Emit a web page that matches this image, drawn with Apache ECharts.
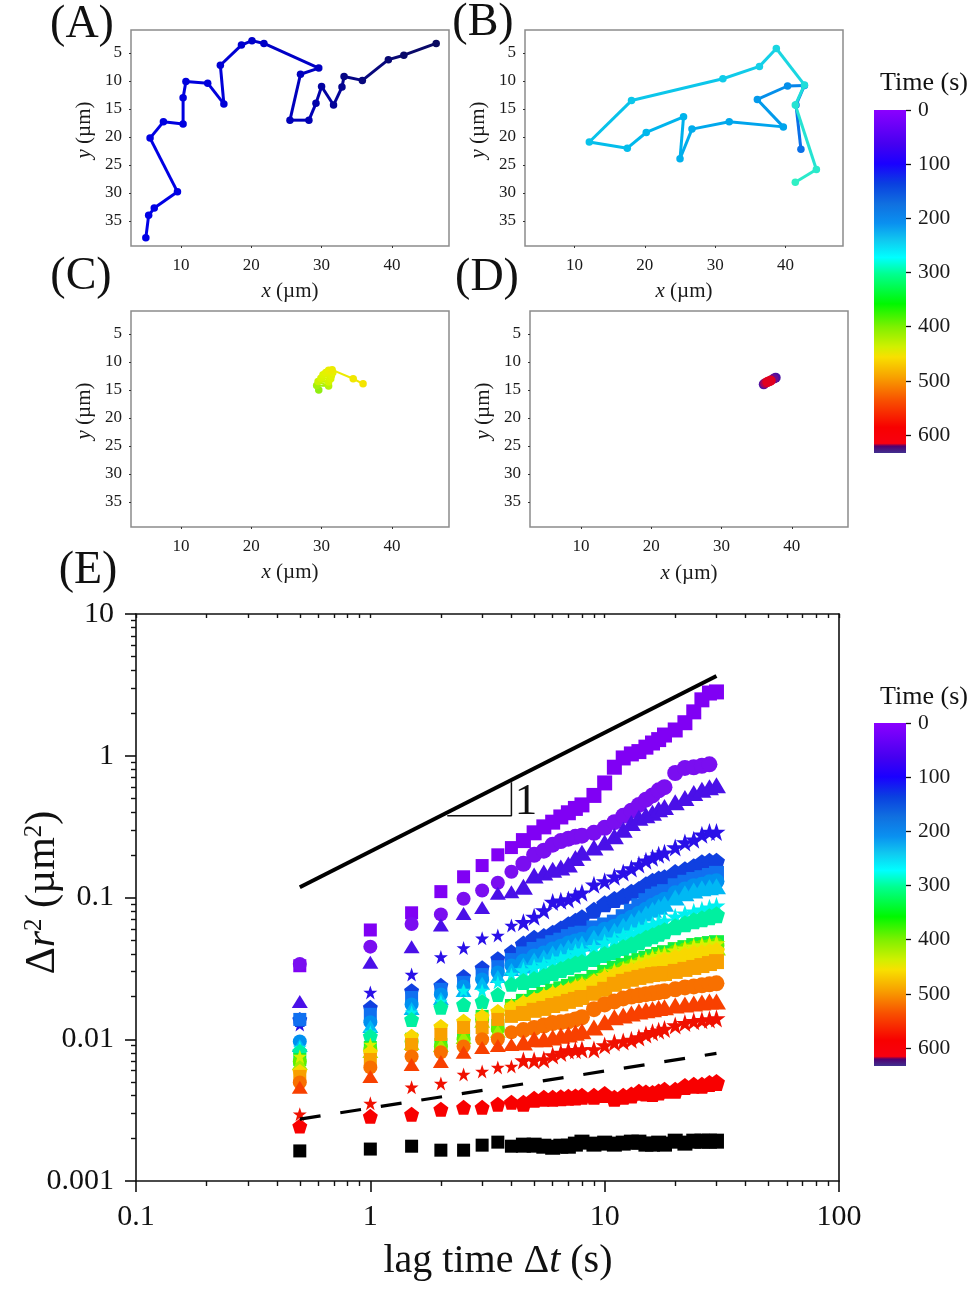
<!DOCTYPE html>
<html><head><meta charset="utf-8">
<style>html,body{margin:0;padding:0;background:#fff}#c{width:975px;height:1289px}</style>
<script src="https://cdn.jsdelivr.net/npm/echarts@6/dist/echarts.min.js"></script>
</head><body><div id="c"></div>
<script>
const SERIF = '"Liberation Serif","Times New Roman",serif';

// Panel tracks (x, y in µm)
const trackAx = [5,5.4,6.2,9.5,5.6,7.5,10.3,10.3,10.7,13.8,16.1,15.6,18.6,20.1,21.8,29.6,27,25.5,28.2,29.2,30,31.7,32.9,33.2,35.8,39.5,41.7,46.3];
const trackAy = [38,34,32.7,29.8,20.2,17.3,17.7,13,10.1,10.4,14.1,7.2,3.6,2.8,3.3,7.7,8.8,17,17,14,11,14.3,11.1,9.2,9.9,6.2,5.4,3.3];
const trackBx = [42.2,41.5,42.7,40.3,36,39.7,32,26.7,25,25.5,20.2,17.5,12.1,18.1,31.1,36.3,38.7,42.7,41.4,44.4,41.4];
const trackBy = [22.2,14.3,10.8,10.9,13.3,18.2,17.3,18.6,23.9,16.4,19.2,22,20.9,13.5,9.6,7.4,4.2,10.7,14.3,25.8,28.1];
const trackCx = [29.6,29.3,31,29.5,31,29.9,31.3,30.2,31.4,30.6,31.6,31,31.5,34.5,35.9];
const trackCy = [15,14.2,14.3,13.5,13.6,12.9,13,12.3,12.4,11.9,11.9,11.5,11.4,13,13.9];
const trackDx = [37.7,36,37.4,36.2,36.7,37,36.5,36.9];
const trackDy = [12.8,14,13,13.8,13.5,13.3,13.6,13.4];

const colorsA = ['#0000e6','#0000dc','#0000b4','#0a0a60'];
const colorsB = ['#0a70e8','#00a4ec','#00b8ec','#14d0e8','#30f0c4'];
const colorsC = ['#90ee10','#d4f400','#dcf400','#e8f000','#f4e400'];
const colorsD = ['#4a10a0','#5a10a0','#c00040','#e00020','#e00020'];

const panelXTicks = [10,20,30,40];
const panelYTicks = [5,10,15,20,25,30,35];
const colorbarTicks = [0,100,200,300,400,500,600];
const colorbarStops = [[0,'#8b00ff'],[0.1,'#4500f0'],[0.157,'#1a00ff'],[0.215,'#0a40e0'],[0.274,'#1070e0'],[0.33,'#0a90f0'],[0.38,'#10c8f0'],[0.43,'#00ffff'],[0.478,'#00ff90'],[0.565,'#00f800'],[0.633,'#80f000'],[0.69,'#d0f000'],[0.72,'#f8e000'],[0.78,'#f8a000'],[0.847,'#f85000'],[0.925,'#f80000'],[0.972,'#f80010'],[0.98,'#500070'],[1,'#403090']];

// MSD panel (E)
const lags = [0.5,1,1.5,2,2.5,3,3.5,4,4.5,5,5.5,6,6.5,7,7.5,8,9,10,11,12,13,14,15,16,17,18,20,22,24,26,28,30];
const s1 = [.033,.059,.078,.11,.14,.168,.20,.225,.252,.286,.315,.34,.37,.396,.425,.45,.525,.643,.83,.965,1.03,1.07,1.15,1.23,1.30,1.40,1.52,1.71,2.04,2.48,2.77,2.82];
const s2 = [.034,.045,.065,.076,.098,.112,.127,.152,.173,.20,.214,.236,.25,.26,.268,.273,.286,.31,.34,.377,.41,.45,.49,.525,.57,.60,.756,.82,.83,.85,.87,null];
const s3 = [.0185,.035,.045,.064,.077,.085,.107,.11,.119,.143,.15,.157,.163,.171,.19,.207,.225,.244,.27,.30,.335,.365,.38,.396,.42,.435,.47,.504,.547,.575,.60,.62];
const s4 = [.0127,.0214,.0286,.038,.044,.0515,.054,.0635,.067,.073,.081,.093,.095,.097,.103,.108,.123,.13,.14,.15,.16,.171,.182,.191,.2,.207,.225,.244,.256,.277,.29,.29];
const s5 = [.0138,.0168,.022,.024,.0277,.032,.037,.0415,.047,.0515,.053,.056,.06,.0643,.068,.072,.0813,.0903,.097,.102,.109,.114,.123,.13,.135,.138,.15,.157,.165,.176,.18,.18];
const s6 = [.0138,.015,.0197,.0225,.0252,.0286,.0325,.0365,.04,.043,.0455,.048,.05,.053,.055,.056,.061,.064,.067,.0732,.08,.0875,.095,.102,.106,.11,.121,.128,.134,.138,.143,.148];
const s7 = [.00964,.0132,.0176,.0207,.0236,.0264,.0296,.0331,.0353,.0383,.0402,.0429,.045,.0473,.049,.0504,.0556,.0593,.0622,.0675,.072,.0768,.082,.0875,.092,.0964,.107,.114,.12,.123,.128,.13];
const s8 = [.00903,.0123,.0165,.0194,.0221,.0248,.0277,.0311,.0331,.0359,.0377,.0402,.042,.0443,.046,.0473,.0521,.0556,.0583,.0633,.068,.072,.077,.082,.086,.0903,.1,.107,.112,.116,.118,.12];
const s9 = [.00875,.0112,.0155,.0185,.0221,.0221,.0252,.0286,.0306,.0321,.0336,.0353,.037,.0383,.041,.0422,.0443,.048,.0504,.0538,.0565,.0593,.062,.0643,.0665,.0686,.0732,.0768,.0794,.082,.0847,.0875];
const s10 = [.0082,.0105,.0138,.0168,.0176,.0185,.0207,.0244,.0256,.0264,.0277,.0296,.031,.0326,.034,.0348,.0371,.0396,.0415,.0443,.0465,.0488,.0515,.0538,.056,.0583,.0622,.0653,.0686,.0708,.0732,.0756];
const s11 = [.0072,.00875,.01,.00918,.0105,.0145,.0125,.0173,.0185,.0197,.0207,.0218,.0227,.0236,.0246,.0256,.0273,.0296,.0316,.0331,.0345,.0359,.0372,.0383,.0396,.0408,.0429,.0443,.0458,.0465,.0473,.048];
const s12 = [.00697,.00847,.00964,.0089,.01,.0138,.0118,.0168,.0173,.0185,.0194,.0204,.0211,.0218,.0229,.024,.0256,.0277,.0291,.0311,.0323,.0336,.0348,.0359,.0372,.0383,.0408,.0422,.0436,.0443,.045,.0458];
const s13 = [.00675,.0082,.00933,.00903,.0103,.0134,.0114,.0163,.0168,.0179,.0188,.0197,.0204,.0211,.022,.0228,.0244,.0264,.0277,.0296,.0308,.0321,.0332,.0342,.0354,.0365,.0389,.0408,.0422,.0429,.0436,.0443];
const s14 = [.00756,.00918,.0105,.0123,.0134,.015,.0157,.0176,.0182,.0191,.0204,.0214,.0218,.0225,.0236,.0244,.0256,.0282,.0301,.0311,.033,.0348,.0364,.0377,.0386,.0396,.0422,.0436,.045,.0458,.0465,.0473];
const s15 = [.00593,.0081,.0105,.0123,.0134,.0145,.0157,.0168,.0179,.0188,.0197,.0207,.0214,.0221,.0228,.0236,.0252,.0268,.0282,.0296,.0305,.0316,.0326,.0336,.0348,.0359,.0377,.0389,.0402,.0408,.0415,.0422];
const s16 = [.00547,.0072,.00918,.0108,.0121,.0121,.0138,.0145,.0152,.016,.0165,.0173,.0178,.0185,.0191,.0197,.0211,.0225,.0244,.0256,.0265,.0273,.028,.0286,.0289,.0291,.0301,.0311,.0321,.0331,.0342,.0353];
const s17 = [.00496,.00633,.00756,.0081,.0089,.01,.01,.0112,.0116,.012,.0125,.013,.0132,.0134,.0138,.0143,.0163,.0176,.0185,.0194,.02,.0204,.0208,.0211,.0215,.0218,.0225,.0232,.0236,.024,.0244,.0248];
const s18 = [.00458,.00547,.00664,.00697,.0081,.00875,.00903,.00918,.00948,.01,.01,.0103,.0106,.0108,.0111,.0114,.0121,.0132,.0143,.0147,.0152,.0157,.016,.0163,.0166,.0168,.0173,.0176,.0179,.0182,.0185,.0185];
const s19 = [.00296,.00353,.00458,.00488,.00565,.00593,.00633,.00643,.00708,.00708,.0072,.00768,.008,.00834,.00838,.00847,.00847,.00903,.00948,.00964,.0099,.0103,.0108,.0112,.0115,.0118,.0125,.013,.0134,.0136,.0138,.014];
const s20 = [.00244,.00286,.00296,.00321,.00331,.00331,.00348,.00359,.00353,.00377,.00383,.00383,.00386,.00389,.00392,.00396,.00396,.00408,.00383,.00396,.00405,.00422,.00418,.00415,.00425,.00436,.00436,.00465,.00473,.00473,.00488,.00496];
const s21 = [.00163,.00168,.00176,.00165,.00165,.00179,.00188,.00176,.00179,.00179,.00176,.00173,.00176,.00176,.00182,.00188,.00182,.00185,.00182,.00185,.00188,.00188,.00182,.00182,.00185,.00182,.00191,.00185,.00191,.00191,.00191,.00191];
const msdSeries = [s1,s2,s3,s4,s5,s6,s7,s8,s9,s10,s11,s12,s13,s14,s15,s16,s17,s18,s19,s20,s21];
const msdColors = ['#8000f4','#7a0ef0','#4a10e8','#2a10e8','#1040e0','#1070f0','#0090f0','#00b8f4','#00f0f0','#00f0a0','#10f040','#60f000','#a0f000','#d8f000','#f8d800','#f8a000','#f87000','#f84000','#f01000','#f80000','#000000'];
const slopeLineX = [0.5,30];
const slopeLineY = [0.118,3.65];
const dashLineX = [0.5,30];
const dashLineY = [0.00273,0.00794];
const triangleX = [2.13,4,4];
const triangleY = [0.377,0.377,0.65];

const STAR = 'path://M12 0.5L14.8 8.9 23.5 8.9 16.5 14.1 19.1 22.8 12 17.5 4.9 22.8 7.5 14.1 0.5 8.9 9.2 8.9Z';
const PENT = 'path://M12 0.5L23.5 9.3 19.2 23 4.8 23 0.5 9.3Z';
const shapeCycle = ['rect','circle','triangle',STAR,PENT];
const sizeCycle = [13,14,[16,13],14,15];
const denseSizeCycle = [15,16,[19,16],18,17];

const grid=[], xAxis=[], yAxis=[], series=[];
const tickFont = {fontFamily:SERIF,color:'#1a1a1a'};

function addPanel(left,top,xs,ys,colors,lineW,symSize,xMin,xGap){
  const g = grid.length;
  grid.push({left:left,top:top,width:318,height:216,show:true,borderColor:'#8c8c8c',borderWidth:1.5,backgroundColor:'#fff',outerBoundsMode:'none'});
  xAxis.push({gridIndex:g,type:'value',min:xMin,max:xMin+318/7.03,
    splitLine:{show:false},axisLine:{show:false},nameMoveOverlap:false,
    axisTick:{length:2,lineStyle:{color:'#333'},customValues:panelXTicks},
    axisLabel:Object.assign({fontSize:17,margin:11,customValues:panelXTicks},tickFont),
    name:'{i|x} (µm)',nameLocation:'middle',nameGap:xGap,
    nameTextStyle:{fontFamily:SERIF,fontSize:21,color:'#1a1a1a',rich:{i:{fontFamily:SERIF,fontSize:21,fontStyle:'italic',color:'#1a1a1a'}}}});
  yAxis.push({gridIndex:g,type:'value',inverse:true,min:0.9,max:0.9+216/5.6,
    splitLine:{show:false},axisLine:{show:false},nameMoveOverlap:false,
    axisTick:{length:2,lineStyle:{color:'#333'},customValues:panelYTicks},
    axisLabel:Object.assign({fontSize:17,margin:9,customValues:panelYTicks},tickFont),
    name:'{i|y} (µm)',nameLocation:'middle',nameGap:36,
    nameTextStyle:{fontFamily:SERIF,fontSize:21,color:'#1a1a1a',padding:[0,0,0,16],rich:{i:{fontFamily:SERIF,fontSize:21,fontStyle:'italic',color:'#1a1a1a'}}}});
  const n = xs.length;
  series.push({type:'custom',xAxisIndex:g,yAxisIndex:g,silent:true,animation:false,clip:false,
    data:xs.map((x,i)=>[x,ys[i]]),
    renderItem:function(params,api){
      const i = params.dataIndex;
      const p = api.coord([api.value(0),api.value(1)]);
      const c = echarts.color.lerp(n>1?i/(n-1):0,colors);
      const ch=[{type:'circle',shape:{cx:p[0],cy:p[1],r:symSize/2},style:{fill:c}}];
      if(i<n-1){
        const q = api.coord([xs[i+1],ys[i+1]]);
        ch.unshift({type:'line',shape:{x1:p[0],y1:p[1],x2:q[0],y2:q[1]},style:{stroke:c,lineWidth:lineW}});
      }
      return {type:'group',children:ch};
    }});
}
addPanel(131,30,trackAx,trackAy,colorsA,3,7.5,2.89,35);
addPanel(525,30,trackBx,trackBy,colorsB,3,7.5,2.95,35);
addPanel(131,311,trackCx,trackCy,colorsC,2,7.5,2.89,35);
addPanel(530,311,trackDx,trackDy,colorsD,3,10,2.75,36);

function addColorbar(top){
  const g = grid.length;
  grid.push({left:874,top:top,width:32,height:343,outerBoundsMode:'none'});
  xAxis.push({gridIndex:g,type:'category',data:['Time'],show:false});
  yAxis.push({gridIndex:g,type:'value',inverse:true,position:'right',min:0,max:633,
    splitLine:{show:false},axisLine:{show:false},
    axisTick:{show:true,length:5,lineStyle:{color:'#111',width:1.3},customValues:colorbarTicks},
    axisLabel:Object.assign({fontSize:21.5,margin:12,padding:[4,0,0,0],customValues:colorbarTicks},tickFont)});
  series.push({type:'bar',xAxisIndex:g,yAxisIndex:g,silent:true,animation:false,barWidth:'100%',
    data:[633],
    itemStyle:{color:new echarts.graphic.LinearGradient(0,0,0,1,colorbarStops.map(s=>({offset:s[0],color:s[1]})))}});
}
addColorbar(110);
addColorbar(723);

// Panel E axes
const e = grid.length;
grid.push({left:136,top:614,width:703,height:567,outerBoundsMode:'none'});
const axisLine = {show:true,onZero:false,lineStyle:{color:'#111',width:1.6}};
xAxis.push({gridIndex:e,type:'log',min:0.1,max:100,logBase:10,position:'bottom',nameMoveOverlap:false,
  splitLine:{show:false},minorSplitLine:{show:false},axisLine:axisLine,
  axisTick:{show:true,length:11,lineStyle:{color:'#111',width:1.6}},
  minorTick:{show:true,splitNumber:9,length:5,lineStyle:{color:'#111',width:1.4}},
  axisLabel:{fontFamily:SERIF,fontSize:30,color:'#111',margin:21,showMinLabel:true,showMaxLabel:true,formatter:v=>String(v)},
  name:'lag time Δ{i|t} (s)',nameLocation:'middle',nameGap:60,
  nameTextStyle:{fontFamily:SERIF,fontSize:40,color:'#111',padding:[0,0,0,21],rich:{i:{fontFamily:SERIF,fontSize:40,fontStyle:'italic',color:'#111'}}}});
xAxis.push({gridIndex:e,type:'log',min:0.1,max:100,logBase:10,position:'top',
  splitLine:{show:false},minorSplitLine:{show:false},axisLine:axisLine,axisLabel:{show:false},
  axisTick:{show:true,inside:true,length:4,lineStyle:{color:'#111',width:1.4}},
  minorTick:{show:true,splitNumber:9,length:4,lineStyle:{color:'#111',width:1.4}}});
yAxis.push({gridIndex:e,type:'log',min:0.001,max:10,logBase:10,position:'left',nameMoveOverlap:false,
  splitLine:{show:false},minorSplitLine:{show:false},axisLine:axisLine,
  axisTick:{show:true,length:11,lineStyle:{color:'#111',width:1.6}},
  minorTick:{show:true,splitNumber:9,length:5,lineStyle:{color:'#111',width:1.4}},
  axisLabel:{fontFamily:SERIF,fontSize:30,color:'#111',margin:22,showMinLabel:true,showMaxLabel:true,formatter:v=>String(v)},
  name:'Δ{i|r}{s|2} (µm{s|2})',nameLocation:'middle',nameGap:72,
  nameTextStyle:{fontFamily:SERIF,fontSize:42,color:'#111',padding:[0,0,0,10],
    rich:{i:{fontFamily:SERIF,fontSize:42,fontStyle:'italic',color:'#111'},s:{fontFamily:SERIF,fontSize:25,color:'#111',verticalAlign:'top',lineHeight:42}}}});
yAxis.push({gridIndex:e,type:'log',min:0.001,max:10,logBase:10,position:'right',
  splitLine:{show:false},minorSplitLine:{show:false},axisLine:axisLine,axisLabel:{show:false},axisTick:{show:false},minorTick:{show:false}});
const ex = e, ey = e;

msdSeries.forEach((vals,k)=>{
  series.push({type:'scatter',xAxisIndex:ex,yAxisIndex:ey,silent:true,animation:false,clip:false,
    symbol:shapeCycle[k%5],
    symbolSize:d=>d[0]>4?denseSizeCycle[k%5]:sizeCycle[k%5],
    itemStyle:{color:msdColors[k],opacity:1},
    data:lags.map((t,i)=>[t,vals[i]]).filter(d=>d[1]!==null)});
});
series.push({type:'line',xAxisIndex:ex,yAxisIndex:ey,silent:true,animation:false,showSymbol:false,symbol:'none',z:5,
  data:slopeLineX.map((x,i)=>[x,slopeLineY[i]]),lineStyle:{color:'#000',width:4}});
series.push({type:'line',xAxisIndex:ex,yAxisIndex:ey,silent:true,animation:false,showSymbol:false,symbol:'none',z:5,
  data:dashLineX.map((x,i)=>[x,dashLineY[i]]),lineStyle:{color:'#000',width:3.2,type:[21,20]}});
series.push({type:'line',xAxisIndex:ex,yAxisIndex:ey,silent:true,animation:false,showSymbol:false,symbol:'none',z:4,
  data:triangleX.map((x,i)=>[x,triangleY[i]]),lineStyle:{color:'#111',width:1.5}});

function label(txt,x,y,size){
  return {type:'text',x:x,y:y,z:10,silent:true,style:{text:txt,fontFamily:SERIF,fontSize:size,fill:'#111',align:'center',verticalAlign:'middle'}};
}
const graphic = [
  label('(A)',82,25,46),label('(B)',483,23,46),label('(C)',81,277,46),label('(D)',487,278,46),label('(E)',88,571,46),
  label('Time (s)',924,83,26),label('Time (s)',924,697,26),label('1',526,802,45)
];

const chart = echarts.init(document.getElementById('c'),null,{renderer:'canvas'});
chart.setOption({animation:false,backgroundColor:'#fff',grid,xAxis,yAxis,series,graphic});
</script></body></html>
